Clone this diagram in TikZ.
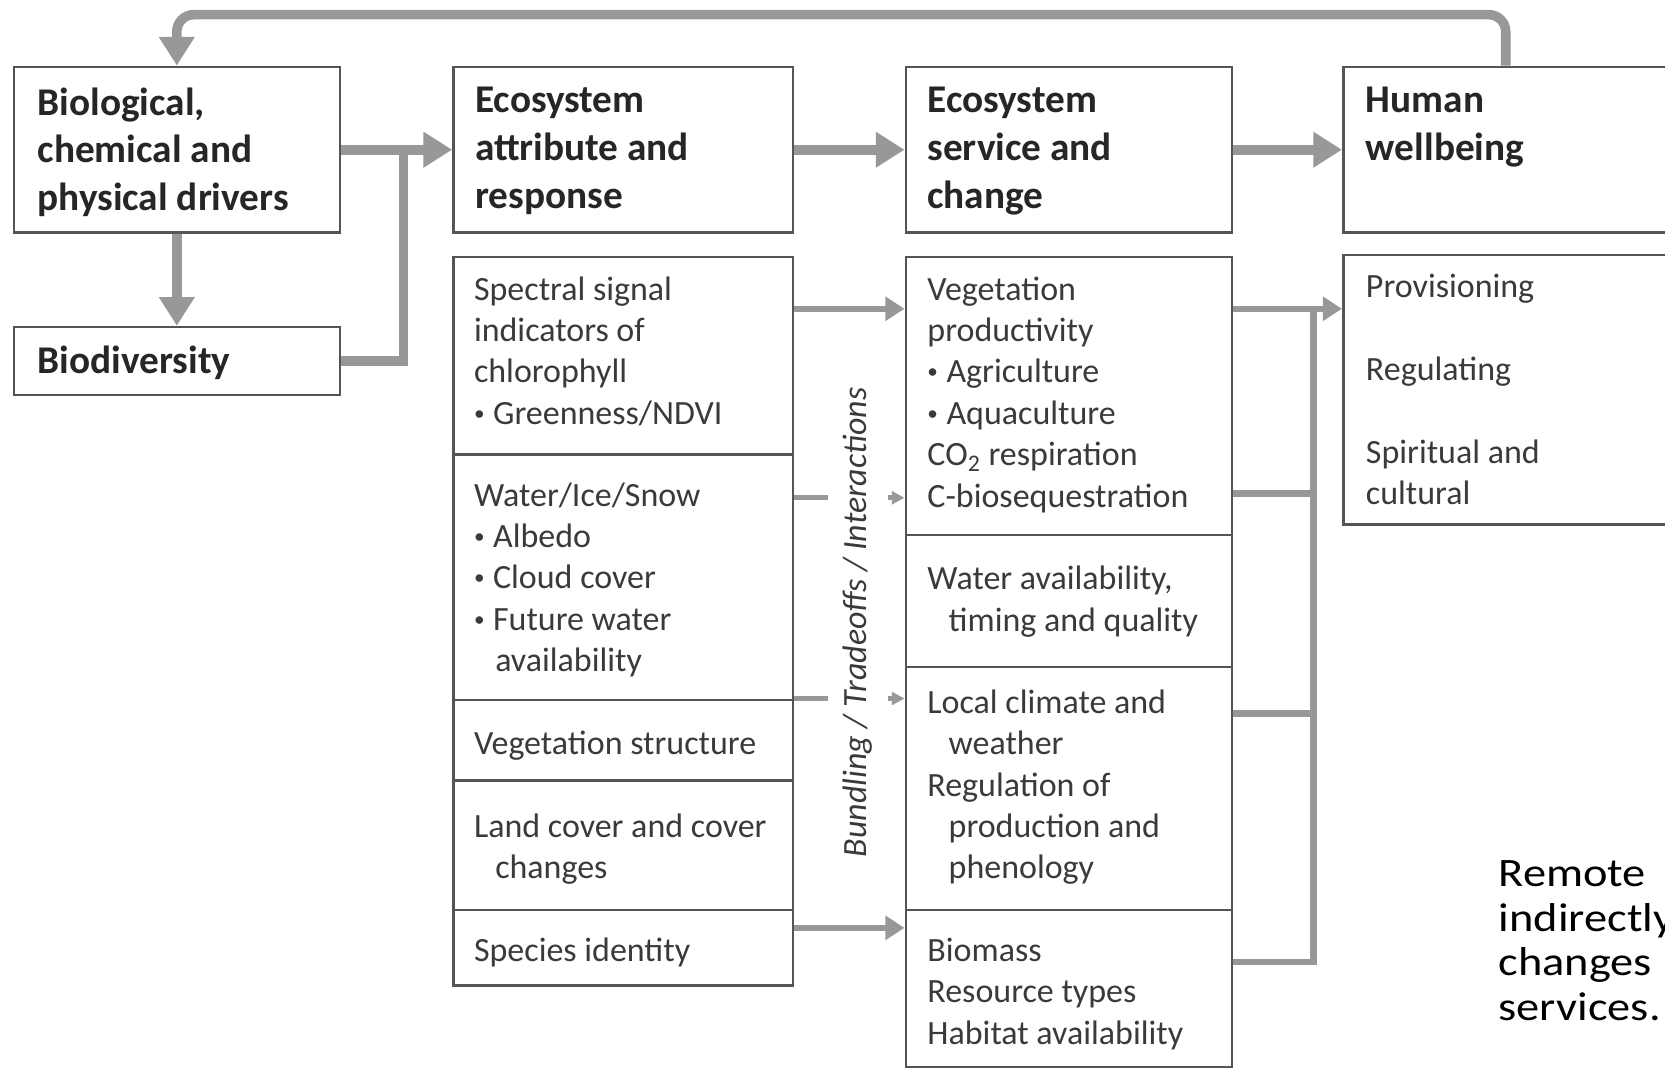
\documentclass[tikz,border=0pt]{standalone}
\usepackage{fontspec}
\setmainfont{Carlito}
\newfontfamily\notefamily[FakeStretch=1.15]{Carlito}
\usetikzlibrary{arrows.meta,fit}
\definecolor{flowgray}{RGB}{152,152,152}
\definecolor{boxgray}{RGB}{85,85,85}
\definecolor{textgray}{RGB}{58,58,58}
\newcommand{\headfont}{\fontsize{18.5pt}{22.5pt}\selectfont\bfseries}
\newcommand{\bodyfont}{\fontsize{16pt}{19.5pt}\selectfont}
\newcommand{\notefont}{\notefamily\fontsize{19pt}{21pt}\selectfont}
\newcommand{\ind}{\hspace*{10pt}}
\newcommand{\bul}{\raisebox{0.25ex}{\fontsize{10pt}{10pt}\selectfont\textbullet}\hspace{4pt}}
\begin{document}
\begin{tikzpicture}[x=0.5pt,y=-0.5pt]
	\tikzset{box/.style = {draw=boxgray, line width=1.2pt, inner sep=0pt},
		head/.style = {anchor=north west, align=left, inner sep=0pt, font=\headfont, text=black!85},
		body/.style = {anchor=north west, align=left, inner sep=0pt, font=\bodyfont, text=textgray},
		bigflow/.style = {draw=flowgray, line width=4.5pt, -{Triangle[length=13.5pt,width=16pt]}},
		flow/.style = {draw=flowgray, line width=3pt, -{Triangle[length=9pt,width=11pt]}},
		smallflow/.style = {draw=flowgray, line width=2.5pt, -{Triangle[length=6pt,width=6pt]}},
		bus/.style = {draw=flowgray, line width=3pt}}

	\useasboundingbox (0,0) rectangle (1568,1011);
	\clip (0,0) rectangle (1568,1011);

	\node[box, fit={(13,63) (320,219)}] (drv) {};
	\node[box, fit={(13,308) (320,372)}] (bio) {};
	\node[box, fit={(427,63) (747,219)}] (attr) {};
	\node[box, fit={(853,63) (1160,219)}] (serv) {};
	\node[box, fit={(1265,63) (1571,219)}] (hum) {};

	\node[box, fit={(427,242) (747,428)}] (a1) {};
	\node[box, fit={(427,428) (747,659)}] (a2) {};
	\node[box, fit={(427,659) (747,735)}] (a3) {};
	\node[box, fit={(427,735) (747,857)}] (a4) {};
	\node[box, fit={(427,857) (747,928)}] (a5) {};

	\node[box, fit={(853,242) (1160,504)}] (s1) {};
	\node[box, fit={(853,504) (1160,628)}] (s2) {};
	\node[box, fit={(853,628) (1160,857)}] (s3) {};
	\node[box, fit={(853,857) (1160,1005)}] (s4) {};

	\node[box, fit={(1265,240) (1571,494)}] (hwb) {};

	\node[head] (drvt) at (35,82) {Biological,\\chemical and\\physical drivers};
	\node[head] (biot) at (35,325) {Biodiversity};
	\node[head] (attrt) at (447,82) {Ecosystem\\attribute and\\response};
	\node[head] (servt) at (873,82) {Ecosystem\\service and\\change};
	\node[head] (humt) at (1286,82) {Human\\wellbeing};

	\node[body] (a1t) at (446,260) {Spectral signal\\indicators of\\chlorophyll\\\bul Greenness/NDVI};
	\node[body] (a2t) at (446,454) {Water/Ice/Snow\\\bul Albedo\\\bul Cloud cover\\\bul Future water\\\ind availability};
	\node[body] (a3t) at (446,688) {Vegetation structure};
	\node[body] (a4t) at (446,766) {Land cover and cover\\\ind changes};
	\node[body] (a5t) at (446,883) {Species identity};

	\node[body] (s1t) at (873,260) {Vegetation\\productivity\\\bul Agriculture\\\bul Aquaculture\\CO\textsubscript{2} respiration\\C-biosequestration};
	\node[body] (s2t) at (873,533) {Water availability,\\\ind timing and quality};
	\node[body] (s3t) at (873,649) {Local climate and\\\ind weather\\Regulation of\\\ind production and\\\ind phenology};
	\node[body] (s4t) at (873,883) {Biomass\\Resource types\\Habitat availability};

	\node[body] (hwbt) at (1286,258) {Provisioning\\[19.5pt]Regulating\\[19.5pt]Spiritual and\\cultural};

	\node[body, font=\notefont, text=black] (note) at (1411,810) {Remote\\indirectly\\changes\\services.};

	\coordinate (jn) at (380,141);
	\draw[bigflow] (drv.south) -- (bio.north);
	\draw[bigflow] (drv.east) -- (attr.west);
	\draw[bus, line width=4.5pt] (bio.east) -| (jn);
	\draw[bigflow] (attr.east) -- (serv.west);
	\draw[bigflow] (serv.east) -- (hum.west);
	\draw[bigflow, rounded corners=8] (hum.north) -- ++(0,-48) -| (drv.north);

	\coordinate (l1) at ([yshift=-25pt]a1.north east);
	\coordinate (l2) at ([yshift=-21pt]a2.north east);
	\coordinate (l3) at (a3.north east);
	\coordinate (l4) at ([yshift=-9pt]a5.north east);
	\draw[flow] (l1) -- (l1 -| s1.west);
	\draw[smallflow] (l2) -- (l2 -| s1.west);
	\draw[smallflow] (l3) -- (l3 -| s3.west);
	\draw[flow] (l4) -- (l4 -| s4.west);

	\node[body, anchor=center, rotate=90, fill=white, font=\bodyfont\itshape, inner xsep=2pt, inner ysep=7pt] (bti) at (808,586) {Bundling / Tradeoffs / Interactions};

	\coordinate (bt) at (1237,292);
	\coordinate (r1) at ([yshift=-25pt]s1.north east);
	\coordinate (r2) at ([yshift=-112pt]s1.north east);
	\coordinate (r3) at ([yshift=-22.5pt]s3.north east);
	\coordinate (r4) at ([yshift=-25pt]s4.north east);
	\draw[flow] (r1) -- (r1 -| hwb.west);
	\draw[bus] (r2) -- (r2 -| bt);
	\draw[bus] (r3) -- (r3 -| bt);
	\draw[bus] (r4) -| (bt);

\end{tikzpicture}
\end{document}
